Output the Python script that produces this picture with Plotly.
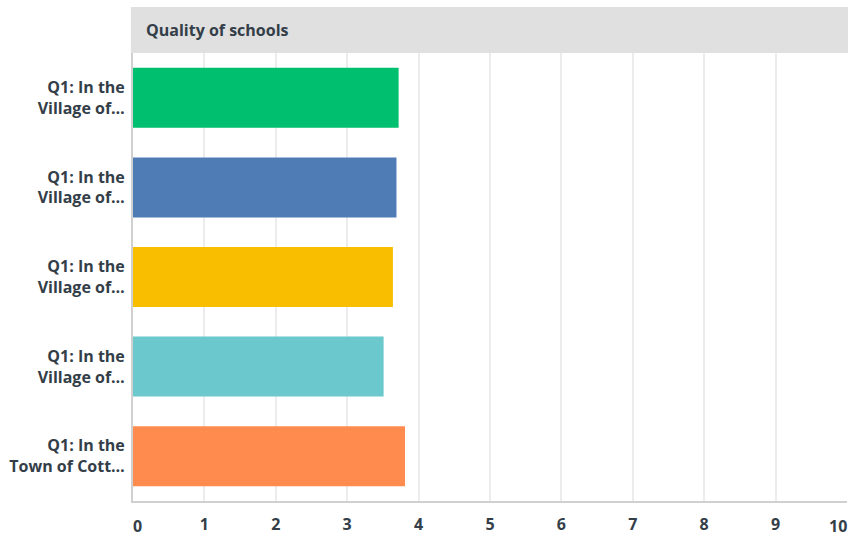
import plotly.graph_objects as go

title_text = "Quality of schools"
categories = ["Q1: In the<br>Village of…", "Q1: In the<br>Village of…", "Q1: In the<br>Village of…",
              "Q1: In the<br>Village of…", "Q1: In the<br>Town of Cott…"]
values = [3.72, 3.69, 3.64, 3.51, 3.81]
colors = ["#00bf6f", "#507cb6", "#f9be00", "#6bc8cd", "#ff8b4f"]
x_ticks = list(range(0, 11))

positions = list(range(len(categories)))
FONT = "Open Sans"
TXT = "#333e48"
FS = 16

fig = go.Figure()
fig.add_trace(go.Bar(
    x=values, y=positions, orientation="h",
    marker=dict(color=colors, line=dict(width=0)),
    width=0.67, hoverinfo="x",
))

fig.update_layout(
    width=848, height=537,
    margin=dict(l=133, r=1, t=53, b=36),
    paper_bgcolor="white", plot_bgcolor="white",
    showlegend=False,
    font=dict(family=FONT, color=TXT, size=FS),
    xaxis=dict(
        range=[0, 10], tickvals=x_ticks[1:-1], ticktext=[str(t) for t in x_ticks[1:-1]],
        showgrid=True, gridcolor="#ececec", gridwidth=2,
        showline=True, linecolor="#d0d0d0", linewidth=2,
        zeroline=False, ticks="", ticklen=0, ticklabelstandoff=8,
        tickfont=dict(family=FONT, size=FS, color=TXT, weight="bold"),
        fixedrange=True,
    ),
    yaxis=dict(
        tickvals=positions, ticktext=categories,
        range=[len(categories) - 0.5, -0.5],
        showgrid=False, zeroline=False,
        showline=True, linecolor="#d0d0d0", linewidth=2,
        ticks="", ticklen=0, ticklabelstandoff=3,
        tickfont=dict(family=FONT, size=FS, color=TXT, weight="bold"),
        fixedrange=True,
    ),
)

# header band
fig.add_shape(type="rect", xref="paper", yref="paper",
              x0=-0.003, x1=1.01, y0=1.0, y1=1.0 + 46 / 448,
              fillcolor="#e0e0e0", line=dict(width=0), layer="below")
fig.add_annotation(text=title_text, xref="paper", yref="paper",
                   x=0.015, y=1.0 + 23 / 448, xanchor="left", yanchor="middle",
                   showarrow=False,
                   font=dict(family=FONT, size=FS, color=TXT, weight="bold"))

# end tick labels kept inside the figure
fig.add_annotation(text=str(x_ticks[0]), x=x_ticks[0], xref="x", yref="paper", y=0,
                   xanchor="left", yanchor="top", yshift=-12, xshift=-2, showarrow=False,
                   font=dict(family=FONT, size=FS, color=TXT, weight="bold"))
fig.add_annotation(text=str(x_ticks[-1]), x=x_ticks[-1], xref="x", yref="paper", y=0,
                   xanchor="right", yanchor="top", yshift=-12, xshift=2, showarrow=False,
                   font=dict(family=FONT, size=FS, color=TXT, weight="bold"))

fig.write_html("out.html", config={"displayModeBar": False},
               post_script="document.body.style.margin='0';document.body.style.overflow='hidden';")
